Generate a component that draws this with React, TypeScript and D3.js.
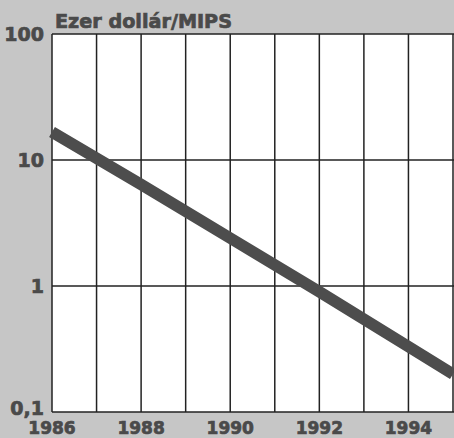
import React, { useEffect, useRef } from 'react';
import * as d3 from 'd3';

const years = [1986, 1988, 1990, 1992, 1994, 1995];
const costPerMips = [16.7, 6.4, 2.4, 0.9, 0.33, 0.2];
const yTicks = [100, 10, 1, 0.1];
const yTickLabels = ['100', '10', '1', '0,1'];
const xTicks = [1986, 1988, 1990, 1992, 1994];
const title = 'Ezer dollár/MIPS';

const W = 454;
const H = 438;

const App = () => {
    const ref = useRef<SVGSVGElement>(null);

    useEffect(() => {
        const svg = d3.select(ref.current);
        svg.selectAll('*').remove();

        const x = d3.scaleLinear().domain([1986, 1995]).range([52, 453]);
        const y = d3.scaleLog().domain([0.1, 100]).range([412, 34]);
        const font = '"DejaVu Sans", sans-serif';
        const ink = '#4a4a4a';

        // halftone-ish grey background
        svg.append('rect').attr('width', W).attr('height', H).attr('fill', '#c6c6c6');

        svg.append('rect')
            .attr('x', x(1986)).attr('y', y(100))
            .attr('width', W - x(1986) + 2).attr('height', y(0.1) - y(100))
            .attr('fill', '#fff');

        // vertical grid, one per year
        svg.append('g')
            .selectAll('line')
            .data(d3.range(1986, 1996))
            .join('line')
            .attr('x1', d => x(d)).attr('x2', d => x(d))
            .attr('y1', y(100)).attr('y2', y(0.1))
            .attr('stroke', '#222').attr('stroke-width', 1.5);

        svg.append('g')
            .selectAll('line')
            .data(yTicks)
            .join('line')
            .attr('x1', x(1986)).attr('x2', W)
            .attr('y1', d => y(d)).attr('y2', d => y(d))
            .attr('stroke', '#222').attr('stroke-width', 1.5);

        const line = d3.line<number>()
            .x((_, i) => x(years[i]))
            .y(d => y(d));

        svg.append('path')
            .datum(costPerMips)
            .attr('d', line)
            .attr('fill', 'none')
            .attr('stroke', '#4d4d4d')
            .attr('stroke-width', 11.5);

        const heavy = (sel: any) => sel
            .attr('font-family', font)
            .attr('font-weight', 'bold')
            .attr('fill', ink)
            .attr('stroke', ink)
            .attr('stroke-width', 0.7);

        svg.append('g')
            .selectAll('text')
            .data(yTicks)
            .join('text')
            .attr('x', 44)
            .attr('y', d => y(d) + (d === 0.1 ? 3 : 7))
            .attr('text-anchor', 'end')
            .attr('font-size', 19)
            .call(heavy)
            .text((_, i) => yTickLabels[i]);

        svg.append('g')
            .selectAll('text')
            .data(xTicks)
            .join('text')
            .attr('x', d => x(d))
            .attr('y', 434)
            .attr('text-anchor', 'middle')
            .attr('font-size', 17)
            .call(heavy)
            .text(d => String(d));

        svg.append('text')
            .attr('x', 55)
            .attr('y', 28)
            .attr('font-size', 19)
            .attr('textLength', 177)
            .attr('lengthAdjust', 'spacingAndGlyphs')
            .call(heavy)
            .text(title);
    }, []);

    return (
        <svg ref={ref} width={W} height={H} style={{ position: 'absolute', left: 0, top: 0 }}></svg>
    );
};

export default App;
